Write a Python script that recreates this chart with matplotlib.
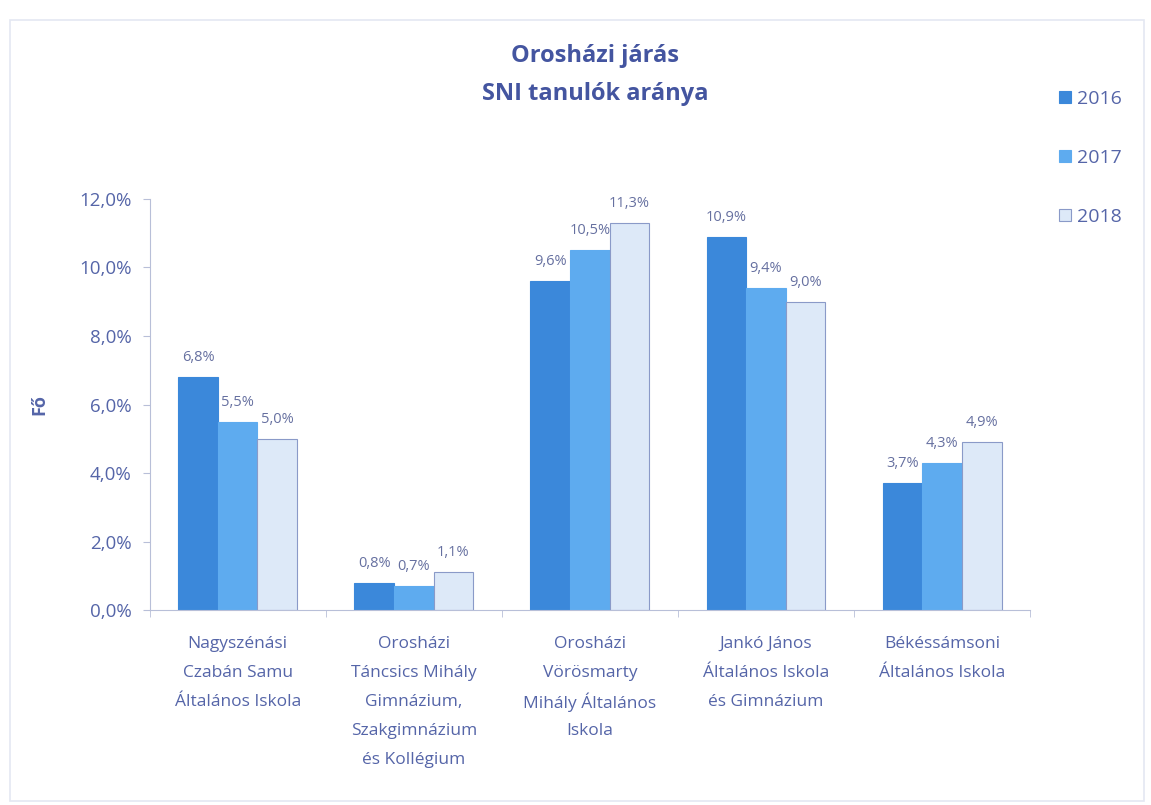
import matplotlib
matplotlib.use("Agg")
import matplotlib.pyplot as plt
import numpy as np
from matplotlib.patches import Rectangle

categories = [
    "Nagyszénási\nCzabán Samu\nÁltalános Iskola",
    "Orosházi\nTáncsics Mihály\nGimnázium,\nSzakgimnázium\nés Kollégium",
    "Orosházi\nVörösmarty\nMihály Általános\nIskola",
    "Jankó János\nÁltalános Iskola\nés Gimnázium",
    "Békéssámsoni\nÁltalános Iskola",
]
years = ["2016", "2017", "2018"]
v2016 = [6.8, 0.8, 9.6, 10.9, 3.7]
v2017 = [5.5, 0.7, 10.5, 9.4, 4.3]
v2018 = [5.0, 1.1, 11.3, 9.0, 4.9]
yticks = [0, 2, 4, 6, 8, 10, 12]

series = [v2016, v2017, v2018]
colors = ["#3b88da", "#5eabef", "#dde9f8"]
edges = ["#3b88da", "#5eabef", "#8a9ac8"]
txt = "#5565a8"

plt.rcParams['font.family'] = ['Open Sans', 'DejaVu Sans']
fig = plt.figure(figsize=(11.51, 8.05), dpi=100)
ax = fig.add_axes([0.130, 0.242, 0.765, 0.511])

x = np.arange(len(categories))
w = 0.225
for i, (vals, c, ec) in enumerate(zip(series, colors, edges)):
    pos = x + (i - 1) * w
    ax.bar(pos, vals, width=w, color=c, edgecolor=ec, linewidth=0.8, label=years[i], zorder=2)
    for p, v in zip(pos, vals):
        ax.text(p, v + 0.35, f"{v:.1f}%".replace(".", ","), ha="center", va="bottom",
                fontsize=10.5, color="#6670a0")

ax.set_xlim(-0.5, len(categories) - 0.5)
ax.set_ylim(0, 12)
ax.set_yticks(yticks)
ax.set_yticklabels([f"{t:.1f}%".replace(".", ",") for t in yticks], fontsize=13.5, color=txt)
ax.set_xticks(x)
ax.set_xticklabels([""] * len(categories))
ax.set_xticks(np.arange(len(categories) + 1) - 0.5, minor=True)
ax.tick_params(axis="x", which="major", length=0)
ax.tick_params(axis="x", which="minor", length=5, color="#b8bfd8")
ax.tick_params(axis="y", length=5, color="#b8bfd8", pad=8)
for s in ["top", "right"]:
    ax.spines[s].set_visible(False)
ax.spines["left"].set_color("#b8bfd8")
ax.spines["bottom"].set_color("#b8bfd8")

# category labels, one line at a time for even line pitch
trans = ax.get_xaxis_transform()
for xi, lab in zip(x, categories):
    for j, line in enumerate(lab.split("\n")):
        ax.annotate(line, xy=(xi, 0), xycoords=trans, xytext=(0, -24.5 - 20.9 * j),
                    textcoords="offset points", ha="center", va="center",
                    fontsize=12.5, color=txt, annotation_clip=False)

ax.set_ylabel("Fő", fontsize=13, color=txt, fontweight="bold", labelpad=22)

fig.text(0.517, 0.907, "Orosházi járás\nSNI tanulók aránya", ha="center", va="center",
         fontsize=17, fontweight="bold", color="#4455a0", linespacing=1.75)

handles, labels = ax.get_legend_handles_labels()
leg = fig.legend(handles, labels, loc="upper left", bbox_to_anchor=(0.905, 0.91),
                 frameon=False, fontsize=14, labelspacing=2.1, handlelength=0.6,
                 handleheight=0.6, handletextpad=0.3)
for t in leg.get_texts():
    t.set_color(txt)

fig.patches.append(Rectangle((0.009, 0.005), 0.985, 0.97, transform=fig.transFigure,
                             fill=False, edgecolor="#e4e8f2", linewidth=1.2))

fig.savefig("out.png", dpi=100)
